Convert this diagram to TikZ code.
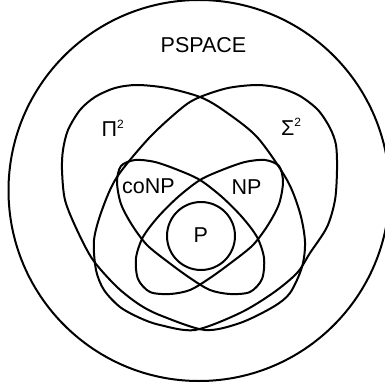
\documentclass[tikz,border=0pt]{standalone}
\usepackage{fontspec}
\setmainfont{Liberation Sans}
\begin{document}
\begin{tikzpicture}[x=1pt,y=-1pt,
  setline/.style={line width=2pt, line join=round},
  lbl/.style={anchor=base west, inner sep=0pt, font=\fontsize{21.5}{24}\selectfont}]
\newcommand{\suptwo}{\raisebox{8.5pt}{\fontsize{12}{12}\selectfont 2}}
\useasboundingbox (0,0) rectangle (384,387);
% PSPACE
\draw[setline] (199,190.5) circle[radius=190.5pt];
% Pi^2
\draw[setline] plot[smooth cycle] coordinates {
 (62,170) (63,150) (68,130) (80,110) (95,97) (115,88) (137,85) (167,88) (200,97)
 (223,110) (257,137) (287,180) (300,213) (305,242) (302,267) (290,293) (273,307)
 (240,323) (205,330) (162,316) (140,305) (117,287) (93,260) (77,230) (65,200)};
% Sigma^2
\draw[setline] plot[smooth cycle] coordinates {
 (337,170) (336,145) (330,128) (318,110) (300,96) (280,88) (257,85) (228,88) (200,97)
 (183,107) (150,137) (117,177) (102,210) (94,240) (96,270) (104,290) (120,307)
 (140,318) (160,325) (195,330) (240,313) (273,293) (297,273) (310,253) (327,227) (335,200)};
% coNP
\draw[setline] plot[smooth cycle] coordinates {
 (117,182) (121,166) (135,160) (155,162) (178,170) (200,180) (222,197) (242,217)
 (257,237) (264,258) (262,279) (250,292) (230,294) (210,290) (190,278) (168,262)
 (147,245) (132,225) (121,204)};
% NP
\draw[setline] plot[smooth cycle] coordinates {
 (283,182) (279,166) (265,160) (245,162) (222,170) (200,180) (178,197) (158,217)
 (143,237) (136,258) (138,279) (150,292) (170,294) (190,290) (210,278) (232,262)
 (253,245) (268,225) (279,204)};
% P
\draw[setline] (201,236) circle[radius=34pt];
% labels
\node[lbl] (tpspace) at (160.5,53) {PSPACE};
\node[lbl] (tpi) at (101.5,137) {Π\suptwo};
\node[lbl] (tsigma) at (281,135.5) {Σ\suptwo};
\node[lbl] (tconp) at (122,193) {coNP};
\node[lbl] (tnp) at (231.5,194) {NP};
\node[lbl] (tp) at (193.5,242) {P};
\end{tikzpicture}
\end{document}
